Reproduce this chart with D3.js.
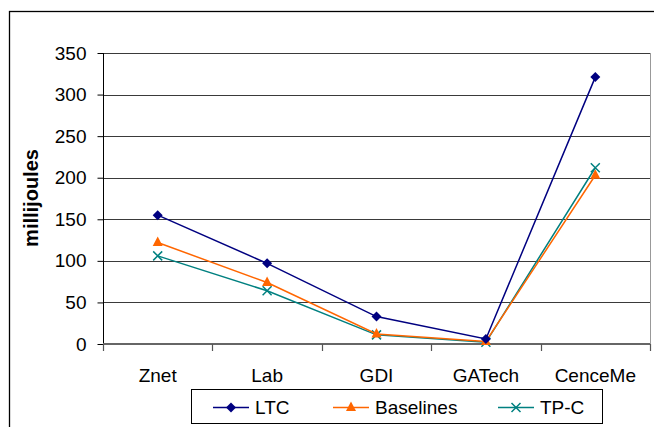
<!DOCTYPE html>
<html><head><meta charset="utf-8">
<script src="https://cdn.jsdelivr.net/npm/d3@7"></script>
<style>body{margin:0;background:#fff}svg{display:block}text{font-family:"Liberation Sans",Arial,sans-serif}</style>
</head><body>
<script>
const categories = ["Znet","Lab","GDI","GATech","CenceMe"];
const ltc = [155, 97, 33, 6, 321];
const baselines = [122, 74, 12, 3, 203];
const tpc = [106, 64, 11, 2, 212];
const yTicks = [0,50,100,150,200,250,300,350];
const seriesNames = ["LTC","Baselines","TP-C"];

const W=654,H=427,FS=19;
const svg=d3.select("body").append("svg").attr("width",W).attr("height",H);
// outer frame
svg.append("rect").attr("x",9.5).attr("y",11.5).attr("width",700).attr("height",500).attr("fill","none").attr("stroke","#000").attr("stroke-width",1.3);

const L=103,R=650,T=53,B=344;
const x=d3.scaleBand().domain(categories).range([L,R]);
const y=d3.scaleLinear().domain([0,350]).range([B,T]);

// gridlines
svg.append("g").selectAll("line").data(yTicks.filter(d=>d>0)).join("line")
 .attr("x1",L).attr("x2",R).attr("y1",d=>Math.round(y(d))+0.5).attr("y2",d=>Math.round(y(d))+0.5)
 .attr("stroke","#3a3a3a").attr("stroke-width",1);
// right border
svg.append("line").attr("x1",R+0.5).attr("x2",R+0.5).attr("y1",T).attr("y2",B).attr("stroke","#999");

// y axis
const ya=svg.append("g").attr("transform",`translate(${L+0.5},0)`).call(d3.axisLeft(y).tickValues(yTicks).tickSize(6).tickPadding(11));
ya.select(".domain").attr("stroke","#000").attr("d",`M0,${T}V${B}`);
ya.selectAll(".tick line").attr("stroke","#000");
ya.selectAll("text").attr("font-size",FS).attr("fill","#000").style("font-family","Liberation Sans, Arial, sans-serif");

// x axis
const xa=svg.append("g").attr("transform",`translate(0,${B})`).call(d3.axisBottom(x).tickSize(0).tickPadding(25));
xa.select(".domain").attr("stroke","#666").attr("stroke-width",2).attr("d",`M${L},0H${R}`);
xa.selectAll("text").attr("font-size",FS).attr("fill","#000").style("font-family","Liberation Sans, Arial, sans-serif");
// boundary ticks
svg.append("g").selectAll("line").data(d3.range(categories.length+1)).join("line")
 .attr("x1",i=>Math.round(L+i*x.step())+0.5).attr("x2",i=>Math.round(L+i*x.step())+0.5)
 .attr("y1",B).attr("y2",B+7).attr("stroke","#555").attr("stroke-width",1.2);

// y label
svg.append("text").attr("transform","translate(38,198) rotate(-90)").attr("text-anchor","middle")
 .attr("font-size",20).attr("font-weight","bold").text("millijoules");

const cx=c=>x(c)+x.bandwidth()/2;
const series=[
 {name:"LTC",vals:ltc,color:"#000080",sym:"diamond"},
 {name:"Baselines",vals:baselines,color:"#FF6600",sym:"triangle"},
 {name:"TP-C",vals:tpc,color:"#008080",sym:"x"}
];
function marker(g,sym,color,px,py){
 if(sym==="diamond") g.append("path").attr("d",`M${px},${py-5}L${px+5},${py}L${px},${py+5}L${px-5},${py}Z`).attr("fill",color);
 else if(sym==="triangle") g.append("path").attr("d",`M${px},${py-6}L${px+5},${py+3.5}L${px-5},${py+3.5}Z`).attr("fill",color);
 else g.append("path").attr("d",`M${px-4.5},${py-4.5}L${px+4.5},${py+4.5}M${px+4.5},${py-4.5}L${px-4.5},${py+4.5}`).attr("stroke",color).attr("stroke-width",1.5);
}
const line=d3.line().x((d,i)=>cx(categories[i])).y(d=>y(d));
series.slice().reverse().forEach(s=>{
 const g=svg.append("g");
 g.append("path").attr("d",line(s.vals)).attr("fill","none").attr("stroke",s.color).attr("stroke-width",1.5);
 s.vals.forEach((v,i)=>marker(g,s.sym,s.color,cx(categories[i]),y(v)));
});

// legend
svg.append("rect").attr("x",191.5).attr("y",389.5).attr("width",411).attr("height",34).attr("fill","#fff").attr("stroke","#000");
const lx=[213,333,498];
series.forEach((s,i)=>{
 const g=svg.append("g");
 g.append("line").attr("x1",lx[i]).attr("x2",lx[i]+36).attr("y1",407.5).attr("y2",407.5).attr("stroke",s.color).attr("stroke-width",1.5);
 marker(g,s.sym,s.color,lx[i]+18,407.5);
 g.append("text").attr("x",lx[i]+42).attr("y",414).attr("font-size",FS).text(seriesNames[i]);
});
</script>
</body></html>
